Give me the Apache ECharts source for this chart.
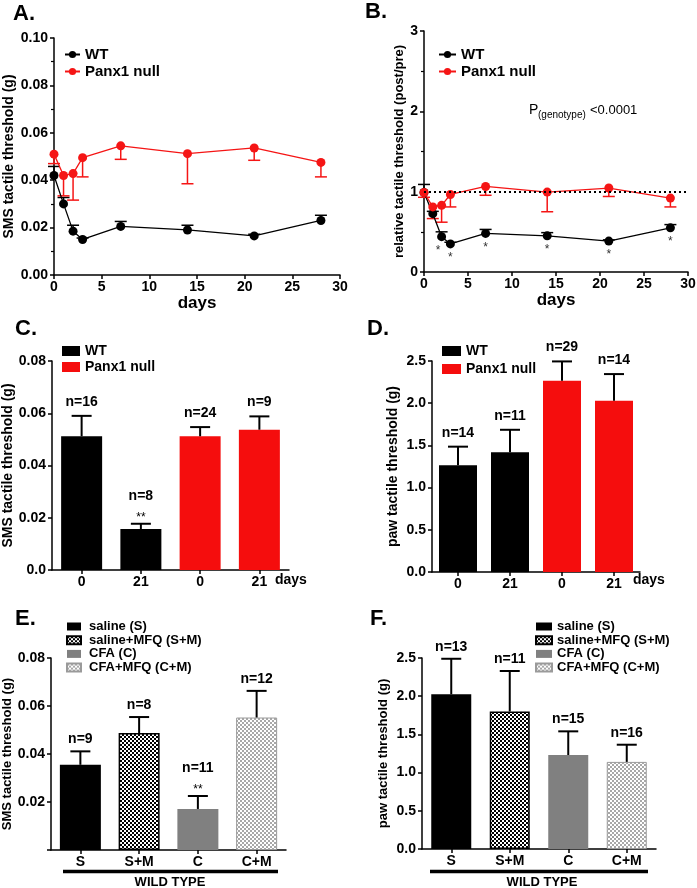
<!DOCTYPE html>
<html><head><meta charset="utf-8">
<script src="https://cdn.jsdelivr.net/npm/echarts@6/dist/echarts.min.js"></script>
<style>html,body{margin:0;padding:0;background:#fff}#c{width:697px;height:888px}</style>
</head><body><div id="c"></div>
<script>
// ---------- DATA ----------
const daysAB = [0, 1, 2, 3, 7, 14, 21, 28];
const xTicksAB = ['0', '5', '10', '15', '20', '25', '30'];

const wtA = [0.042, 0.030, 0.0185, 0.015, 0.0205, 0.019, 0.0165, 0.023];
const wtAErr = [0.0458, 0.0327, 0.021, 0.0156, 0.0226, 0.021, 0.0172, 0.0252];
const koA = [0.051, 0.042, 0.0428, 0.0495, 0.0545, 0.0512, 0.0536, 0.0475];
const koAErr = [0.047, 0.0334, 0.0316, 0.0414, 0.0488, 0.0385, 0.0484, 0.0414];
const yTicksA = ['0.00', '0.02', '0.04', '0.06', '0.08', '0.10'];

const wtB = [0.99, 0.726, 0.44, 0.35, 0.48, 0.45, 0.385, 0.55];
const wtBErr = [1.09, 0.755, 0.50, 0.37, 0.53, 0.49, 0.40, 0.59];
const koB = [0.99, 0.81, 0.83, 0.965, 1.065, 0.995, 1.045, 0.92];
const koBErr = [0.93, 0.665, 0.62, 0.81, 0.955, 0.75, 0.94, 0.81];
const starDaysB = [1.6, 3, 7, 14, 21, 28];
const starValsB = [0.44, 0.35, 0.48, 0.45, 0.385, 0.55];
const yTicksB = ['0', '1', '2', '3'];

const catsCD = ['0', '21', '0', '21'];
const groupCD = ['WT', 'WT', 'Panx1 null', 'Panx1 null'];
const valsC = [0.0512, 0.0157, 0.0512, 0.0537];
const errC = [0.0590, 0.0177, 0.0547, 0.0588];
const nC = ['n=16', 'n=8', 'n=24', 'n=9'];
const starsC = ['', '**', '', ''];
const yTicksC = ['0.0', '0.02', '0.04', '0.06', '0.08'];

const valsD = [1.265, 1.42, 2.265, 2.03];
const errD = [1.485, 1.685, 2.495, 2.345];
const nD = ['n=14', 'n=11', 'n=29', 'n=14'];
const starsD = ['', '', '', ''];
const yTicksD = ['0.0', '0.5', '1.0', '1.5', '2.0', '2.5'];

const catsEF = ['S', 'S+M', 'C', 'C+M'];
const groupEF = ['saline (S)', 'saline+MFQ (S+M)', 'CFA (C)', 'CFA+MFQ (C+M)'];
const valsE = [0.0355, 0.0487, 0.0171, 0.0552];
const errE = [0.0411, 0.0554, 0.0225, 0.0663];
const nE = ['n=9', 'n=8', 'n=11', 'n=12'];
const starsE = ['', '', '**', ''];
const yTicksE = ['', '0.02', '0.04', '0.06', '0.08'];

const valsF = [2.025, 1.80, 1.23, 1.14];
const errF = [2.49, 2.33, 1.54, 1.365];
const nF = ['n=13', 'n=11', 'n=15', 'n=16'];
const starsF = ['', '', '', ''];
const yTicksF = ['0.0', '0.5', '1.0', '1.5', '2.0', '2.5'];

// ---------- STYLE ----------
const FONT = "'Liberation Sans', Arial, Helvetica, sans-serif";
const RED = '#f51515';
const BARRED = '#f50d0d';

function checker(c1, c2, s) {
  const cv = document.createElement('canvas');
  cv.width = cv.height = s * 2;
  const ctx = cv.getContext('2d');
  ctx.fillStyle = c2; ctx.fillRect(0, 0, 2 * s, 2 * s);
  ctx.fillStyle = c1; ctx.fillRect(0, 0, s, s); ctx.fillRect(s, s, s, s);
  return cv;
}
const patDark = { image: checker('#000', '#fff', 2), repeat: 'repeat' };
const patLight = { image: checker('#a8a8a8', '#fff', 2), repeat: 'repeat' };
const styleEF = [
  { color: '#000' },
  { color: patDark, borderColor: '#000', borderWidth: 1.5 },
  { color: '#808080' },
  { color: patLight, borderColor: '#9a9a9a', borderWidth: 1 }
];

const chart = echarts.init(document.getElementById('c'), null, { renderer: 'canvas' });

const grids = [
  { left: 54, top: 38, width: 286, height: 237 },
  { left: 424, top: 31, width: 264, height: 241 },
  { left: 52, top: 361, width: 237, height: 209 },
  { left: 432, top: 361, width: 208, height: 211 },
  { left: 51, top: 658, width: 235, height: 192 },
  { left: 422, top: 658, width: 234, height: 191 }
].map(g => Object.assign({ outerBoundsMode: 'none', containLabel: false }, g));

const axisLineStyle = { show: true, lineStyle: { color: '#000', width: 1.5 } };
const tickStyle = { show: true, length: 4, lineStyle: { color: '#000', width: 1.5 } };
const labelBase = { fontFamily: FONT, fontWeight: 'bold', fontSize: 14, color: '#000' };

function yAxis(gi, min, max, interval, ticks, name, nameSize, nameGap, minor) {
  return {
    type: 'value', gridIndex: gi, min, max, interval,
    name, nameLocation: 'middle', nameGap,
    nameTextStyle: { fontFamily: FONT, fontWeight: 'bold', fontSize: nameSize, color: '#000' },
    axisLine: axisLineStyle, axisTick: tickStyle,
    minorTick: { show: !!minor, splitNumber: 2, length: 3, lineStyle: { color: '#000', width: 1.2 } },
    splitLine: { show: false },
    axisLabel: Object.assign({ margin: 6, formatter: v => { const t = ticks[Math.round((v - min) / interval)]; return t === undefined ? '' : t; } }, labelBase)
  };
}
function xValAxis(gi) {
  return {
    type: 'value', gridIndex: gi, min: 0, max: 30, interval: 5,
    name: 'days', nameLocation: 'middle', nameGap: 19,
    nameTextStyle: { fontFamily: FONT, fontWeight: 'bold', fontSize: 17, color: '#000' },
    axisLine: axisLineStyle, axisTick: tickStyle, splitLine: { show: false },
    axisLabel: Object.assign({ margin: 5, formatter: v => xTicksAB[Math.round(v / 5)] }, labelBase)
  };
}
function xCatAxis(gi, cats) {
  return {
    type: 'category', gridIndex: gi, data: cats,
    axisLine: axisLineStyle,
    axisTick: { show: true, alignWithLabel: true, length: 4, lineStyle: { color: '#000', width: 1.5 } },
    splitLine: { show: false },
    axisLabel: Object.assign({ margin: 5, interval: 0 }, labelBase)
  };
}

function lineSeries(name, gi, ys, color) {
  return {
    type: 'line', name, xAxisIndex: gi, yAxisIndex: gi,
    data: daysAB.map((x, i) => [x, ys[i]]),
    symbol: 'circle', symbolSize: 9, itemStyle: { color }, lineStyle: { color, width: 1.3 }, z: 3
  };
}
function errLineSeries(gi, ys, es, color) {
  return {
    type: 'custom', xAxisIndex: gi, yAxisIndex: gi, silent: true, z: 2,
    data: daysAB.map((x, i) => [x, ys[i], es[i]]),
    renderItem: (p, api) => {
      const a = api.coord([api.value(0), api.value(1)]);
      const b = api.coord([api.value(0), api.value(2)]);
      const st = { stroke: color, lineWidth: 1.5 };
      return { type: 'group', children: [
        { type: 'line', shape: { x1: a[0], y1: a[1], x2: b[0], y2: b[1] }, style: st },
        { type: 'line', shape: { x1: b[0] - 6, y1: b[1], x2: b[0] + 6, y2: b[1] }, style: st }
      ] };
    }
  };
}
function barErrSeries(gi, vals, errs, ns, stars, nGap) {
  return {
    type: 'custom', xAxisIndex: gi, yAxisIndex: gi, silent: true, z: 4,
    data: vals.map((v, i) => [i, v, errs[i]]),
    renderItem: (p, api) => {
      const i = p.dataIndex;
      const a = api.coord([i, vals[i]]);
      const b = api.coord([i, errs[i]]);
      const st = { stroke: '#000', lineWidth: 2 };
      const ch = [
        { type: 'line', shape: { x1: a[0], y1: a[1], x2: b[0], y2: b[1] }, style: st },
        { type: 'line', shape: { x1: b[0] - 10, y1: b[1], x2: b[0] + 10, y2: b[1] }, style: st }
      ];
      const hasStar = stars[i] !== '';
      if (hasStar) {
        ch.push({ type: 'text', x: b[0], y: b[1] - 6, style: { text: stars[i], font: '12px ' + FONT, fill: '#000', align: 'center', verticalAlign: 'middle' } });
      }
      ch.push({ type: 'text', x: b[0], y: b[1] - (hasStar ? 28 : nGap), style: { text: ns[i], font: 'bold 14px ' + FONT, fill: '#000', align: 'center', verticalAlign: 'middle' } });
      return { type: 'group', children: ch };
    }
  };
}
function barSeries(name, gi, vals, groups, grp, itemStyle, width) {
  return {
    type: 'bar', name, xAxisIndex: gi, yAxisIndex: gi,
    data: vals.map((v, i) => groups[i] === grp ? v : '-'),
    barWidth: width, barGap: '-100%', itemStyle, z: 2
  };
}
const strip = n => n.split('#')[0];
function legend(names, left, top, opts) {
  return Object.assign({
    data: names, orient: 'vertical', left, top, padding: 0, selectedMode: false,
    formatter: strip,
    textStyle: { fontFamily: FONT, fontWeight: 'bold', fontSize: 14, color: '#000' }
  }, opts);
}

const series = [
  errLineSeries(0, wtA, wtAErr, '#000'),
  errLineSeries(0, koA, koAErr, RED),
  lineSeries('WT#A', 0, wtA, '#000'),
  lineSeries('Panx1 null#A', 0, koA, RED),
  errLineSeries(1, wtB, wtBErr, '#000'),
  errLineSeries(1, koB, koBErr, RED),
  Object.assign(lineSeries('WT#B', 1, wtB, '#000'), {
    markLine: { silent: true, symbol: 'none', label: { show: false },
      lineStyle: { type: [2, 3], width: 2, color: '#000' }, data: [{ yAxis: 1 }] }
  }),
  lineSeries('Panx1 null#B', 1, koB, RED),
  {
    type: 'custom', xAxisIndex: 1, yAxisIndex: 1, silent: true, z: 4,
    data: starDaysB.map((d, i) => [d, starValsB[i]]),
    renderItem: (p, api) => {
      const a = api.coord([api.value(0), api.value(1)]);
      return { type: 'text', x: a[0], y: a[1] + 14, style: { text: '*', font: '12px ' + FONT, fill: '#333', align: 'center', verticalAlign: 'middle' } };
    }
  },
  barSeries('WT#C', 2, valsC, groupCD, 'WT', { color: '#000' }, 41),
  barSeries('Panx1 null#C', 2, valsC, groupCD, 'Panx1 null', { color: BARRED }, 41),
  barErrSeries(2, valsC, errC, nC, starsC, 14),
  barSeries('WT#D', 3, valsD, groupCD, 'WT', { color: '#000' }, 38),
  barSeries('Panx1 null#D', 3, valsD, groupCD, 'Panx1 null', { color: BARRED }, 38),
  barErrSeries(3, valsD, errD, nD, starsD, 14),
  ...groupEF.map((g, k) => barSeries(g + '#E', 4, valsE, groupEF, g, styleEF[k], 41)),
  barErrSeries(4, valsE, errE, nE, starsE, 12),
  ...groupEF.map((g, k) => barSeries(g + '#F', 5, valsF, groupEF, g, styleEF[k], 40)),
  barErrSeries(5, valsF, errF, nF, starsF, 12)
];

const txt = (text, x, y, font, extra) => ({
  type: 'text', x, y, silent: true,
  style: Object.assign({ text, font, fill: '#000', align: 'left', verticalAlign: 'top' }, extra || {})
});

const option = {
  animation: false,
  backgroundColor: '#fff',
  grid: grids,
  xAxis: [xValAxis(0), xValAxis(1), xCatAxis(2, catsCD), xCatAxis(3, catsCD), xCatAxis(4, catsEF), xCatAxis(5, catsEF)],
  yAxis: [
    yAxis(0, 0, 0.1, 0.02, yTicksA, 'SMS tactile threshold (g)', 14, 38, true),
    yAxis(1, 0, 3, 1, yTicksB, 'relative tactile threshold (post/pre)', 13, 14, true),
    yAxis(2, 0, 0.08, 0.02, yTicksC, 'SMS tactile threshold (g)', 14, 37, false),
    yAxis(3, 0, 2.5, 0.5, yTicksD, 'paw tactile threshold (g)', 14, 32, false),
    yAxis(4, 0, 0.08, 0.02, yTicksE, 'SMS tactile threshold (g)', 13, 36, false),
    yAxis(5, 0, 2.5, 0.5, yTicksF, 'paw tactile threshold (g)', 13, 32, false)
  ],
  legend: [
    legend(['WT#A', 'Panx1 null#A'], 64, 47, { itemWidth: 15, itemHeight: 9, itemGap: 2, textStyle: { fontFamily: FONT, fontWeight: 'bold', fontSize: 15, color: '#000' } }),
    legend(['WT#B', 'Panx1 null#B'], 438, 47, { itemWidth: 17, itemHeight: 9, itemGap: 2, textStyle: { fontFamily: FONT, fontWeight: 'bold', fontSize: 15, color: '#000' } }),
    legend(['WT#C', 'Panx1 null#C'], 62, 344, { icon: 'rect', itemWidth: 18, itemHeight: 10, itemGap: 2 }),
    legend(['WT#D', 'Panx1 null#D'], 442, 344, { icon: 'rect', itemWidth: 19, itemHeight: 10, itemGap: 4 }),
    legend(groupEF.map(g => g + '#E'), 66, 620, { icon: 'rect', itemWidth: 14, itemHeight: 8, itemGap: 0.7, textStyle: { fontFamily: FONT, fontWeight: 'bold', fontSize: 13, color: '#000', padding: [0, 0, 0, 3] } }),
    legend(groupEF.map(g => g + '#F'), 535, 620, { icon: 'rect', itemWidth: 16, itemHeight: 8, itemGap: 0.7, textStyle: { fontFamily: FONT, fontWeight: 'bold', fontSize: 13, color: '#000' } })
  ],
  graphic: [
    txt('A.', 13, 3, 'bold 22px ' + FONT),
    txt('B.', 365, 1, 'bold 22px ' + FONT),
    txt('C.', 15, 318, 'bold 22px ' + FONT),
    txt('D.', 367, 318, 'bold 22px ' + FONT),
    txt('E.', 15, 608, 'bold 22px ' + FONT),
    txt('F.', 370, 608, 'bold 22px ' + FONT),
    txt('P', 529, 110, '14px ' + FONT, { verticalAlign: 'middle' }),
    txt('(genotype)', 538, 115, '10px ' + FONT, { verticalAlign: 'middle' }),
    txt('<0.0001', 590, 110, '13px ' + FONT, { verticalAlign: 'middle' }),
    txt('days', 275, 580, 'bold 14px ' + FONT, { verticalAlign: 'middle' }),
    txt('days', 633, 580, 'bold 14px ' + FONT, { verticalAlign: 'middle' }),
    { type: 'line', silent: true, shape: { x1: 63, y1: 871.5, x2: 278, y2: 871.5 }, style: { stroke: '#000', lineWidth: 3.5 } },
    { type: 'line', silent: true, shape: { x1: 430, y1: 871.5, x2: 648, y2: 871.5 }, style: { stroke: '#000', lineWidth: 3.5 } },
    txt('WILD TYPE', 170, 882, 'bold 13px ' + FONT, { align: 'center', verticalAlign: 'middle' }),
    txt('WILD TYPE', 542, 882, 'bold 13px ' + FONT, { align: 'center', verticalAlign: 'middle' })
  ],
  series
};
chart.setOption(option);
</script></body></html>
